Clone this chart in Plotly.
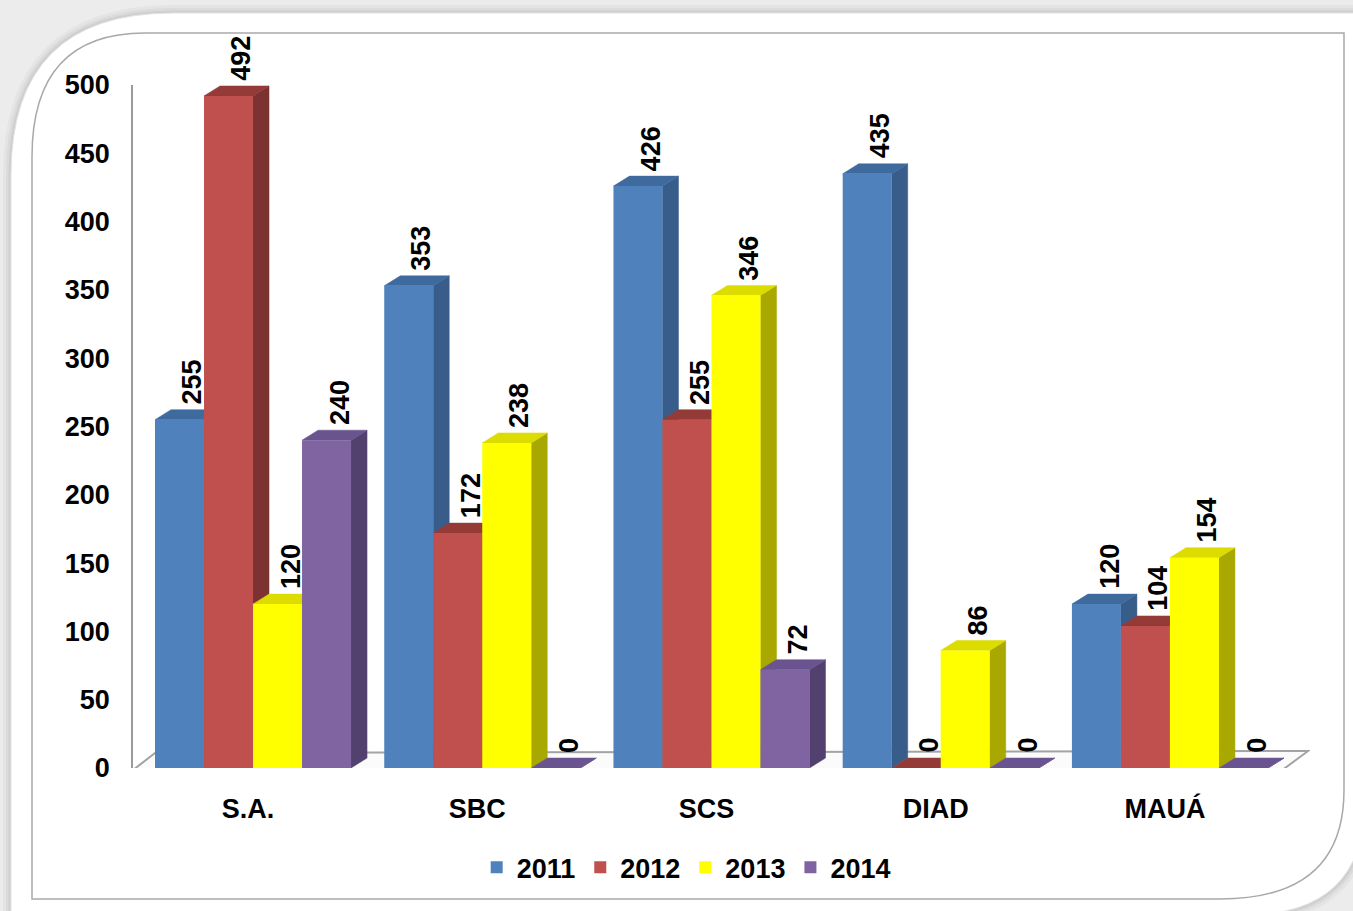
import plotly.graph_objects as go

# ---------------- data ----------------
categories = ["S.A.", "SBC", "SCS", "DIAD", "MAUÁ"]
years = ["2011", "2012", "2013", "2014"]
v2011 = [255, 353, 426, 435, 120]
v2012 = [492, 172, 255, 0, 104]
v2013 = [120, 238, 346, 86, 154]
v2014 = [240, 0, 72, 0, 0]
series = [v2011, v2012, v2013, v2014]
y_ticks = [0, 50, 100, 150, 200, 250, 300, 350, 400, 450, 500]

# ---------------- style ----------------
front_cols = ["#4F81BD", "#C0504D", "#FFFF00", "#8064A2"]
side_cols = ["#385D8A", "#7B3230", "#A8A800", "#52406E"]
top_cols = ["#3E6A9E", "#943B38", "#DCDC00", "#6A5490"]

W, H = 1353, 911
ML, MR, MT, MB = 133, 43, 85, 143
PW, PH = W - ML - MR, H - MT - MB
XR = [-0.5236, 4.611]
YR = [0, 500]
BW = 0.2138      # bar width (category units)
DX = 0.0698      # 3-D depth offset in x
DY = 7.3         # 3-D depth offset in y
FONT = "Arial, 'Liberation Sans', sans-serif"
FS = 27


def px(x):
    return (x - ML) / PW


def py(y):
    return (MT + PH - y) / PH


fig = go.Figure()

# side and top faces (main subplot, underneath the front faces)
for j, vals in enumerate(series):
    sx, sy = [], []
    for i, v in enumerate(vals):
        xc = i + (j - 1.5) * BW
        R = xc + BW / 2
        sx += [R, R + DX, R + DX, R, R, None]
        sy += [0, DY, v + DY, v, 0, None]
    fig.add_trace(go.Scatter(x=sx, y=sy, mode="lines", fill="toself",
                             fillcolor=side_cols[j],
                             line=dict(color=side_cols[j], width=0.5),
                             hoverinfo="skip", showlegend=False))
for j, vals in enumerate(series):
    tx, ty = [], []
    for i, v in enumerate(vals):
        xc = i + (j - 1.5) * BW
        L, R = xc - BW / 2, xc + BW / 2
        tx += [L, L + DX, R + DX, R, L, None]
        ty += [v, v + DY, v + DY, v, v, None]
    fig.add_trace(go.Scatter(x=tx, y=ty, mode="lines", fill="toself",
                             fillcolor=top_cols[j],
                             line=dict(color=top_cols[j], width=0.5),
                             hoverinfo="skip", showlegend=False))

# front faces (overlaid subplot, drawn on top)
for j, vals in enumerate(series):
    xs = [i + (j - 1.5) * BW for i in range(len(categories))]
    fig.add_trace(go.Bar(x=xs, y=vals, width=BW, name=years[j],
                         marker=dict(color=front_cols[j], line=dict(width=0)),
                         xaxis="x2", yaxis="y2"))

# data labels
for j, vals in enumerate(series):
    for i, v in enumerate(vals):
        xc = i + (j - 1.5) * BW
        fig.add_annotation(x=xc + DX * 0.8, y=v + DY, text=str(v),
                           textangle=-90, showarrow=False,
                           xanchor="center", yanchor="bottom", yshift=3,
                           font=dict(family=FONT, size=FS, color="black",
                                     weight="bold"))

shapes = []
# card shadow + card
card = (f"M {px(11)},{py(925)} L {px(11)},{py(175)} "
        f"Q {px(11)},{py(13)} {px(173)},{py(13)} L {px(1365)},{py(13)} "
        f"L {px(1365)},{py(800)} Q {px(1365)},{py(915)} {px(1245)},{py(915)} "
        f"L {px(11)},{py(925)} Z")
for wdt, op in [(16, 0.03), (10, 0.04), (5, 0.05)]:
    shapes.append(dict(type="path", xref="paper", yref="paper", path=card,
                       line=dict(color=f"rgba(0,0,0,{op})", width=wdt),
                       fillcolor="rgba(0,0,0,0)", layer="below"))
shapes.append(dict(type="path", xref="paper", yref="paper", path=card,
                   line=dict(color="#e2e2e2", width=1), fillcolor="white",
                   layer="below"))
# inner frame
frame = (f"M {px(32)},{py(899)} L {px(32)},{py(157)} "
         f"Q {px(32)},{py(33)} {px(145)},{py(33)} L {px(1344)},{py(33)} "
         f"L {px(1344)},{py(790)} Q {px(1344)},{py(899)} {px(1220)},{py(899)} Z")
shapes.append(dict(type="path", xref="paper", yref="paper", path=frame,
                   line=dict(color="#a9a9a9", width=1.5),
                   fillcolor="rgba(0,0,0,0)", layer="below"))
# floor
shapes.append(dict(type="path", xref="x", yref="y", layer="below",
                   path="M -0.5236,-1.5 L 4.49,-1.5 L 4.603,12.5 L -0.4276,11 Z",
                   line=dict(color="#a3a3a3", width=2), fillcolor="#fbfbfb"))

fig.update_layout(
    width=W, height=H,
    margin=dict(l=ML, r=MR, t=MT, b=MB),
    paper_bgcolor="#ececec",
    plot_bgcolor="rgba(0,0,0,0)",
    barmode="overlay",
    shapes=shapes,
    xaxis=dict(range=XR, tickvals=[i - 0.022 for i in range(len(categories))],
               ticktext=categories, showgrid=False, zeroline=False,
               showline=False, ticklabelstandoff=22,
               tickfont=dict(family=FONT, size=FS, color="black",
                             weight="bold")),
    yaxis=dict(range=YR, tickvals=y_ticks, showgrid=False, zeroline=False,
               showline=True, linecolor="#9a9a9a", linewidth=1.5,
               ticklabelstandoff=16,
               tickfont=dict(family=FONT, size=FS, color="black",
                             weight="bold")),
    xaxis2=dict(range=XR, overlaying="x", visible=False),
    yaxis2=dict(range=YR, overlaying="y", visible=False),
    legend=dict(orientation="h", x=0.47, y=-0.146, xanchor="center",
                yanchor="middle", bgcolor="rgba(0,0,0,0)",
                font=dict(family=FONT, size=FS, color="black", weight="bold")),
    showlegend=True,
)

fig.write_html("out.html",
               config={"displayModeBar": False},
               post_script="document.body.style.margin='0';"
                           "document.body.style.overflow='hidden';")
